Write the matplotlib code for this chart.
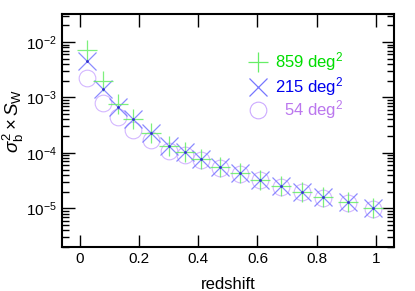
''' sample variance vs redshift '''
import matplotlib
matplotlib.use('Agg')
import matplotlib.pyplot as plt
from matplotlib.ticker import LogLocator, NullFormatter, FixedLocator

plt.rcParams['font.family'] = ['Liberation Sans', 'DejaVu Sans']
plt.rcParams['mathtext.fontset'] = 'custom'
plt.rcParams['mathtext.rm'] = 'Liberation Sans'
plt.rcParams['mathtext.it'] = 'Liberation Sans:italic'

# redshift bins
z = [0.024, 0.078, 0.13, 0.18, 0.24, 0.30, 0.355, 0.41,
     0.475, 0.54, 0.61, 0.68, 0.75, 0.82, 0.905, 0.99]
# sigma_b^2 x S_W for the three survey areas
s859 = [7.2e-3, 2.0e-3, 7.6e-4, 4.0e-4, 2.3e-4, 1.35e-4, 1.05e-4, 7.9e-5,
        5.6e-5, 4.4e-5, 3.3e-5, 2.5e-5, 2.0e-5, 1.6e-5, 1.3e-5, 1.0e-5]
s215 = [4.5e-3, 1.4e-3, 6.7e-4, 4.0e-4, 2.3e-4, 1.35e-4, 1.05e-4, 7.9e-5,
        5.6e-5, 4.4e-5, 3.3e-5, 2.5e-5, 2.0e-5, 1.6e-5, 1.3e-5, 1.0e-5]
s54 = [2.2e-3, 8.0e-4, 4.5e-4, 2.6e-4, 1.7e-4, 1.1e-4, 9.0e-5, 7.3e-5,
       5.3e-5, 4.2e-5, 3.2e-5, 2.45e-5, 1.95e-5, 1.55e-5, 1.27e-5, 9.8e-6]
labels = ['859 deg$^2$', '215 deg$^2$', '54 deg$^2$']
xticks = [0, 0.2, 0.4, 0.6, 0.8, 1]

fig = plt.figure(figsize=(4.15, 2.91), dpi=100)
ax = fig.add_axes([0.149, 0.151, 0.80, 0.801])

series = [
    (s54, 'o', '#ccaaff', dict(markerfacecolor='none', markersize=12, markeredgewidth=0.8)),
    (s215, 'x', '#7777ff', dict(markersize=13, markeredgewidth=0.9)),
    (s859, '+', '#66ee66', dict(markersize=15, markeredgewidth=0.9)),
]
for s, m, c, kw in series:
    ax.plot(z, s, linestyle='none', marker=m, color=c, alpha=0.85, **kw)
ax.plot(z, s215, linestyle='none', marker='.', markersize=2, color='#3333cc')

ax.set_yscale('log')
ax.set_xlim(-0.06, 1.06)
ax.set_ylim(2.0e-6, 3.2e-2)
ax.xaxis.set_major_locator(FixedLocator(xticks))
ax.set_xticklabels(['0', '0.2', '0.4', '0.6', '0.8', '1'])
ax.yaxis.set_major_locator(LogLocator(base=10, numticks=10))
ax.yaxis.set_minor_locator(LogLocator(base=10, subs=range(2, 10), numticks=10))
ax.yaxis.set_minor_formatter(NullFormatter())
ax.tick_params(which='both', direction='in', top=True, right=True, labelsize=11, width=1)
ax.tick_params(which='major', length=9)
ax.tick_params(which='minor', length=5)
for sp in ax.spines.values():
    sp.set_linewidth(1.5)

ax.set_xlabel('redshift', fontsize=12)
ax.xaxis.set_label_coords(0.502, -0.13)
ax.set_ylabel(r'$\sigma_{\rm b}^2 \times S_{\rm W}$', fontsize=13.5)
ax.yaxis.set_label_coords(-0.108, 0.54)

# legend drawn by hand, markers left, text right aligned
rows = [0.794, 0.687, 0.588]
leg = [('+', '#66ee66', '#00dd00', 15), ('x', '#7777ff', '#0000ee', 13), ('o', '#ccaaff', '#bb77ee', 12)]
for y, (m, c, tc, ms), lab in zip(rows, leg, labels):
    if m == 'o':
        ax.plot([0.59], [y], marker=m, color=c, markerfacecolor='none', markersize=ms,
                markeredgewidth=0.8, transform=ax.transAxes, clip_on=False)
    else:
        ax.plot([0.59], [y], marker=m, color=c, markersize=ms, markeredgewidth=0.9,
                transform=ax.transAxes, clip_on=False)
    ax.text(0.846, y, lab, color=tc, fontsize=12, ha='right', va='center', transform=ax.transAxes)

fig.savefig('out.png', dpi=100)
